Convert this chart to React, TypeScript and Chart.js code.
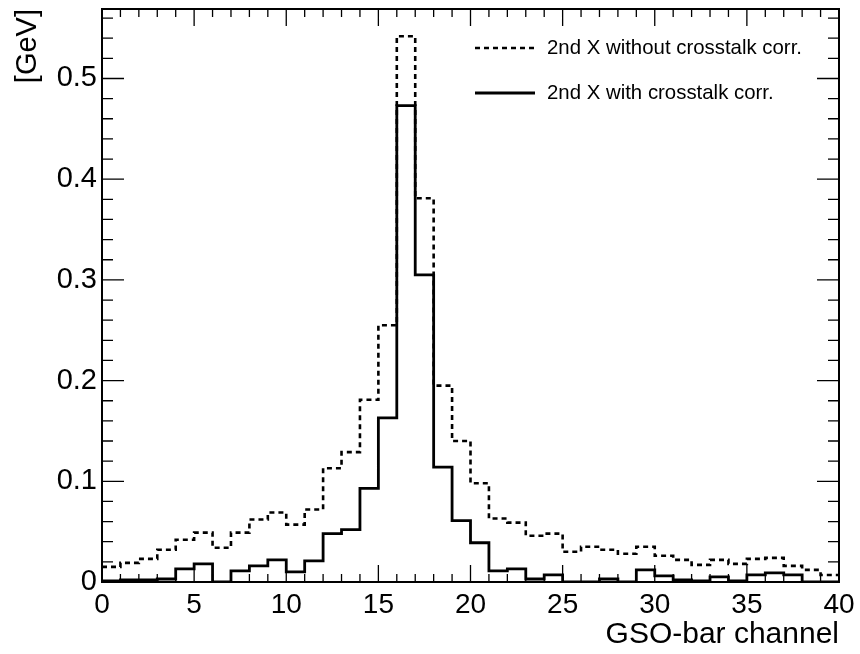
import React, { useEffect, useRef } from "react";
import { Chart, registerables } from "chart.js";

Chart.register(...registerables);

// Bin edges of GSO-bar channels (0..40, width 1)
const binEdges: number[] = Array.from({ length: 41 }, (_, i) => i);

// Energy per channel [GeV]
const withoutCorr: number[] = [
  0.015, 0.019, 0.023, 0.032, 0.042, 0.049, 0.034, 0.049, 0.062, 0.069,
  0.057, 0.072, 0.113, 0.129, 0.181, 0.255, 0.542, 0.381, 0.195, 0.140,
  0.098, 0.063, 0.059, 0.046, 0.048, 0.030, 0.035, 0.032, 0.028, 0.035,
  0.026, 0.022, 0.017, 0.022, 0.018, 0.023, 0.024, 0.016, 0.012, 0.007,
];
const withCorr: number[] = [
  0.001, 0.002, 0.002, 0.003, 0.013, 0.018, 0.0, 0.011, 0.016, 0.022,
  0.010, 0.021, 0.048, 0.052, 0.093, 0.163, 0.473, 0.305, 0.114, 0.061,
  0.039, 0.011, 0.013, 0.003, 0.007, 0.0, 0.0, 0.003, 0.0, 0.012,
  0.006, 0.002, 0.001, 0.005, 0.001, 0.007, 0.009, 0.007, 0.0, 0.0,
];
const seriesLabels: string[] = [
  "2nd X without crosstalk corr.",
  "2nd X with crosstalk corr.",
];
const xTickValues: number[] = [0, 5, 10, 15, 20, 25, 30, 35, 40];
const yTickValues: number[] = [0, 0.1, 0.2, 0.3, 0.4, 0.5];

const X_MIN = 0;
const X_MAX = 40;
const Y_MIN = 0;
const Y_MAX = 0.569;

const FONT = "'Liberation Sans', Arial, Helvetica, sans-serif";

function toSteps(vals: number[]) {
  const pts = vals.map((v, i) => ({ x: binEdges[i], y: v }));
  pts.push({ x: binEdges[vals.length], y: vals[vals.length - 1] });
  return pts;
}

const framePlugin = {
  id: "rootFrame",
  afterDatasetsDraw(chart: any) {
    const { ctx, chartArea: a, scales } = chart;
    const xs = scales.x;
    const ys = scales.y;
    ctx.save();
    ctx.strokeStyle = "#000";
    // ticks
    ctx.lineWidth = 1.3;
    ctx.beginPath();
    for (let v = X_MIN; v <= X_MAX + 1e-9; v += 1) {
      const px = xs.getPixelForValue(v);
      const major = Math.abs(v % 5) < 1e-9;
      const len = major ? 17 : 8;
      ctx.moveTo(px, a.bottom);
      ctx.lineTo(px, a.bottom - len);
      ctx.moveTo(px, a.top);
      ctx.lineTo(px, a.top + len);
    }
    for (let i = 0; i * 0.02 <= Y_MAX + 1e-9; i++) {
      const v = i * 0.02;
      const py = ys.getPixelForValue(v);
      const major = i % 5 === 0;
      const len = major ? 22 : 11;
      ctx.moveTo(a.left, py);
      ctx.lineTo(a.left + len, py);
      ctx.moveTo(a.right, py);
      ctx.lineTo(a.right - len, py);
    }
    ctx.stroke();
    // frame
    ctx.lineWidth = 2;
    ctx.strokeRect(a.left, a.top, a.right - a.left, a.bottom - a.top);

    // legend
    const ds = chart.data.datasets;
    const lx0 = a.left + 373;
    const lx1 = a.left + 433;
    const tx = a.left + 445;
    const rows = [a.top + 39, a.top + 84];
    ctx.font = `20.4px ${FONT}`;
    ctx.fillStyle = "#000";
    ctx.textBaseline = "middle";
    ctx.textAlign = "left";
    ds.forEach((d: any, i: number) => {
      ctx.beginPath();
      ctx.lineWidth = d.borderWidth;
      ctx.setLineDash(d.borderDash || []);
      ctx.moveTo(lx0, rows[i]);
      ctx.lineTo(lx1, rows[i]);
      ctx.stroke();
      ctx.setLineDash([]);
      ctx.fillText(d.label, tx, rows[i]);
    });
    ctx.restore();
  },
};

export default function App() {
  const ref = useRef<HTMLCanvasElement | null>(null);
  useEffect(() => {
    if (!ref.current) return;
    const chart = new Chart(ref.current, {
      type: "line",
      data: {
        datasets: [
          {
            label: seriesLabels[0],
            data: toSteps(withoutCorr),
            borderColor: "#000",
            borderWidth: 2.6,
            borderDash: [5, 4],
            stepped: "before",
            pointRadius: 0,
            fill: false,
          },
          {
            label: seriesLabels[1],
            data: toSteps(withCorr),
            borderColor: "#000",
            borderWidth: 2.8,
            stepped: "before",
            pointRadius: 0,
            fill: false,
          },
        ],
      } as any,
      options: {
        animation: false,
        responsive: false,
        devicePixelRatio: 1,
        layout: { padding: { top: 9, right: 21, left: 0, bottom: 0 } },
        plugins: {
          legend: { display: false },
          tooltip: { enabled: false },
        },
        scales: {
          x: {
            type: "linear",
            min: X_MIN,
            max: X_MAX,
            afterFit: (s: any) => {
              s.height = 72;
              s.paddingLeft = 0;
              s.paddingRight = 0;
            },
            afterBuildTicks: (s: any) => {
              s.ticks = xTickValues.map((v) => ({ value: v }));
            },
            grid: { display: false, drawTicks: false, tickLength: 0 },
            border: { display: false },
            ticks: {
              autoSkip: false,
              maxRotation: 0,
              padding: 6,
              color: "#000",
              font: { family: FONT, size: 28 },
              callback: (v: any) => String(v),
            },
            title: {
              display: true,
              text: "GSO-bar channel",
              align: "end",
              color: "#000",
              font: { family: FONT, size: 30 },
              padding: { top: 0, bottom: 1 },
            },
          },
          y: {
            type: "linear",
            min: Y_MIN,
            max: Y_MAX,
            afterFit: (s: any) => {
              s.width = 102;
              s.paddingTop = 0;
              s.paddingBottom = 0;
            },
            afterBuildTicks: (s: any) => {
              s.ticks = yTickValues.map((v) => ({ value: v }));
            },
            grid: { display: false, drawTicks: false, tickLength: 0 },
            border: { display: false },
            ticks: {
              autoSkip: false,
              padding: 5,
              color: "#000",
              font: { family: FONT, size: 29 },
              callback: (v: any) => (Number(v) === 0 ? "0" : Number(v).toFixed(1)),
            },
            title: {
              display: true,
              text: "[GeV]",
              align: "end",
              color: "#000",
              font: { family: FONT, size: 29 },
              padding: { top: 11, bottom: 0 },
            },
          },
        },
      } as any,
      plugins: [framePlugin],
    });
    return () => chart.destroy();
  }, []);
  return (
    <canvas
      ref={ref}
      width={860}
      height={654}
      style={{ position: "absolute", left: 0, top: 0, width: 860, height: 654, background: "#fff" }}
    />
  );
}
